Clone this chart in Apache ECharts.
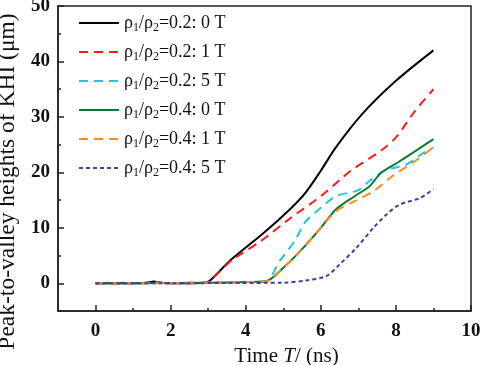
<!DOCTYPE html>
<html>
<head>
<meta charset="utf-8">
<script src="https://cdn.jsdelivr.net/npm/echarts@6/dist/echarts.min.js"></script>
<style>
  html, body { margin: 0; padding: 0; background: #fff; }
  #chart { width: 484px; height: 365px; }
</style>
</head>
<body>
<div id="chart"></div>
<script>
  // 曲线数据 [时间 ns, 高度 μm]
  const ratio02_0T = [[0, 0], [1, 0], [1.35, 0.1], [1.55, 0.3], [1.75, 0.1], [2, 0], [2.9, 0.1], [3.05, 0.5],
    [3.6, 4.2], [4.5, 9.2], [5.2, 13.5], [5.6, 16.4], [6, 20.3], [6.4, 24.5], [7.1, 30.5], [8, 36.5], [9, 42]]
  const ratio02_1T = [[0, 0], [1, 0], [1.35, 0.1], [1.55, 0.3], [1.75, 0.1], [2, 0], [2.9, 0.1], [3.05, 0.5],
    [3.6, 4], [3.9, 5.4], [4.4, 7.6], [5.2, 11.8], [6, 15.7], [6.8, 20.3], [7.6, 23.9], [8, 26.3], [8.5, 31], [9, 35]]
  const ratio02_5T = [[0, 0], [4.5, 0.3], [4.9, 4], [5.3, 7.6], [5.6, 11.2], [6, 13.6], [6.4, 15.7], [7, 16.8],
    [7.3, 18.5], [7.7, 20.3], [8.3, 21.5], [8.75, 23.6], [9, 24.5]]
  const ratio04_0T = [[0, 0], [4.5, 0.3], [5, 2.8], [5.45, 5.8], [6, 10], [6.4, 13.3], [6.9, 15.7], [7.3, 17.5],
    [7.6, 19.9], [8.1, 22], [9, 26]]
  const ratio04_1T = [[0, 0], [4.5, 0.3], [5, 2.8], [5.45, 5.8], [6, 10], [6.4, 13], [6.9, 14.8], [7.4, 16.6],
    [7.9, 19.3], [8.5, 22], [9, 24.5]]
  const ratio04_5T = [[0, 0], [5, 0.1], [5.6, 0.5], [6.15, 1.3], [6.5, 3.4], [6.95, 6.4], [7.4, 10], [7.75, 12.4],
    [8.1, 14.2], [8.65, 15.4], [9, 17]]

  const names = ['0.2: 0 T', '0.2: 1 T', '0.2: 5 T', '0.4: 0 T', '0.4: 1 T', '0.4: 5 T']
  const xMajor = [0, 2, 4, 6, 8, 10]
  const xMinor = [1, 3, 5, 7, 9]
  const yMajor = [0, 10, 20, 30, 40, 50]
  const yMinor = [-5, 5, 15, 25, 35, 45]

  const font = 'Liberation Serif'
  const chart = echarts.init(document.getElementById('chart'))

  const mkSeries = (i, data, color, dash) => ({
    name: names[i],
    type: 'line',
    data: data,
    smooth: 0.3,
    symbol: 'none',
    lineStyle: { color: color, width: 2, type: dash },
    itemStyle: { color: color },
  })

  const option = {
    animation: false,
    grid: {
      left: 58, right: 13, top: 6, bottom: 54,
      outerBoundsMode: 'none', containLabel: false,
      show: true, borderColor: '#222', borderWidth: 1.5,
    },
    legend: {
      orient: 'vertical',
      left: 73,
      top: 9,
      itemWidth: 40,
      itemHeight: 14,
      itemGap: 9,
      itemStyle: { opacity: 0 },
      formatter: (n) => '{a|ρ}{s|1}{a|/ρ}{s|2}{a|=' + n + '}',
      textStyle: {
        color: '#111',
        rich: {
          a: { fontFamily: font, fontSize: 18, color: '#111' },
          s: { fontFamily: font, fontSize: 12, color: '#111', padding: [10, 0, 0, 0] },
        },
      },
    },
    xAxis: [{
      type: 'value', min: -1, max: 10,
      name: '{b|Time }{i|T}{b|/ (ns)}',
      nameLocation: 'middle', nameGap: 29,
      nameTextStyle: {
        padding: [0, 0, 0, 44],
        rich: {
          b: { fontFamily: font, fontSize: 21, color: '#111' },
          i: { fontFamily: font, fontSize: 21, fontStyle: 'italic', color: '#111' },
        },
      },
      axisLine: { onZero: false, lineStyle: { color: '#222', width: 1.5 } },
      axisTick: { inside: true, length: 6, customValues: xMajor, lineStyle: { color: '#222', width: 1.5 } },
      axisLabel: { customValues: xMajor, fontFamily: font, fontSize: 19, fontWeight: 'bold', color: '#111', margin: 11 },
      splitLine: { show: false },
    }, {
      type: 'value', min: -1, max: 10, position: 'bottom',
      axisLine: { show: false, onZero: false },
      axisTick: { inside: true, length: 3, customValues: xMinor, lineStyle: { color: '#222', width: 1.5 } },
      axisLabel: { show: false },
      splitLine: { show: false },
    }],
    yAxis: [{
      type: 'value', min: -5, max: 50,
      name: 'Peak-to-valley heights of KHI (μm)',
      nameLocation: 'middle', nameGap: 25,
      nameTextStyle: { fontFamily: font, fontSize: 23.5, color: '#111', padding: [0, 46, 0, 0] },
      axisLine: { show: true, onZero: false, lineStyle: { color: '#222', width: 1.5 } },
      axisTick: { inside: true, length: 6, customValues: yMajor, lineStyle: { color: '#222', width: 1.5 } },
      axisLabel: { customValues: yMajor, fontFamily: font, fontSize: 19, fontWeight: 'bold', color: '#111', margin: 8 },
      splitLine: { show: false },
    }, {
      type: 'value', min: -5, max: 50, position: 'left',
      axisLine: { show: false, onZero: false },
      axisTick: { inside: true, length: 3, customValues: yMinor, lineStyle: { color: '#222', width: 1.5 } },
      axisLabel: { show: false },
      splitLine: { show: false },
    }],
    series: [
      mkSeries(0, ratio02_0T, '#000000', 'solid'),
      mkSeries(1, ratio02_1T, '#ff1a1a', [9, 6]),
      mkSeries(2, ratio02_5T, '#1ec8d8', [9, 6]),
      mkSeries(3, ratio04_0T, '#0a7a32', 'solid'),
      mkSeries(4, ratio04_1T, '#ff8a1e', [9, 6]),
      mkSeries(5, ratio04_5T, '#4b3aa0', [4, 3]),
    ],
  }

  chart.setOption(option)
</script>
</body>
</html>
